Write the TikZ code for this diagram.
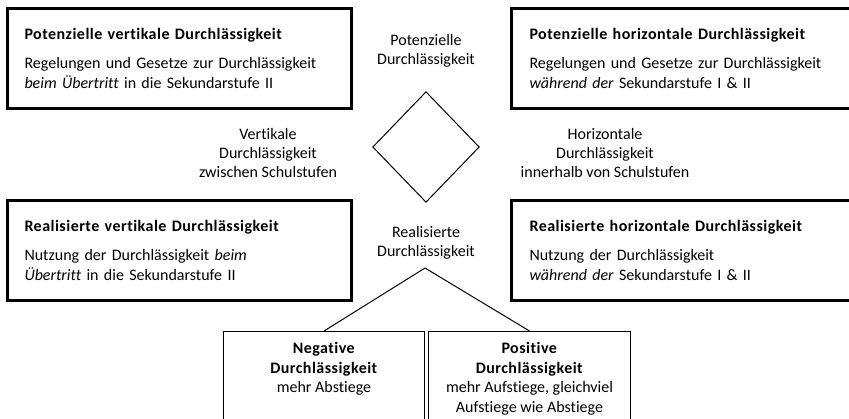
\documentclass[tikz,border=0pt]{standalone}
\usepackage{fontspec}
\setmainfont[Ligatures=NoCommon, BoldFeatures={LetterSpace=3}]{Carlito}
\usetikzlibrary{shapes.geometric,positioning}

\tikzset{
  bigbox/.style={draw, line width=2.25pt, anchor=north west, inner ysep=0pt,
    align=left, minimum height=75pt, font=\fontsize{12}{14.6}\selectfont},
  smallbox/.style={draw, line width=0.75pt, anchor=north west, inner sep=0pt,
    minimum height=90pt},
  boxtext/.style={align=center, inner sep=0pt, font=\fontsize{12}{14.6}\selectfont},
  midtext/.style={align=center, inner sep=0pt, font=\fontsize{12}{14.6}\selectfont},
}

\begin{document}
\begin{tikzpicture}[x=0.75pt,y=0.75pt,yscale=-1,xscale=1]
        \useasboundingbox (0,0) rectangle (849,418);
        \clip (0,0) rectangle (849,418);

        %Shape: Rectangle [potenzielle vertikale]
        \node [bigbox, inner xsep=12.75pt, text width=232.5pt] (potvert) at (6,7)
          {\textbf{Potenzielle vertikale Durchlässigkeit}\\[7pt]
           Regelungen und Gesetze zur Durchlässigkeit\\
           \textit{beim Übertritt} in die Sekundarstufe II};
        %Shape: Rectangle [potenzielle horizontale]
        \node [bigbox, inner xsep=13.5pt, text width=243pt] (pothor) at (510,7)
          {\textbf{Potenzielle horizontale Durchlässigkeit}\\[7pt]
           Regelungen und Gesetze zur Durchlässigkeit\\
           \textit{während der} Sekundarstufe I \& II};
        %Shape: Rectangle [realisierte vertikale]
        \node [bigbox, inner xsep=12.75pt, text width=232.5pt] (realvert) at (6,199)
          {\textbf{Realisierte vertikale Durchlässigkeit}\\[7pt]
           Nutzung der Durchlässigkeit \textit{beim}\\
           \textit{Übertritt} in die Sekundarstufe II};
        %Shape: Rectangle [realisierte horizontale]
        \node [bigbox, inner xsep=13.5pt, text width=243pt] (realhor) at (510,199)
          {\textbf{Realisierte horizontale Durchlässigkeit}\\[7pt]
           Nutzung der Durchlässigkeit\\
           \textit{während der} Sekundarstufe I \& II};

        %Shape: Diamond
        \node [draw, diamond, line width=0.75pt, inner sep=0pt, minimum width=80pt,
          minimum height=83pt] (raute) at (426,147) {};

        % Text Node
        \node [midtext] (potlabel) at (426,51) {Potenzielle\\Durchlässigkeit};
        % Text Node
        \node [midtext] (reallabel) at (426,243) {Realisierte\\Durchlässigkeit};
        % Text Node
        \node [midtext] (vertlabel) at (268,153) {Vertikale\\Durchlässigkeit\\zwischen Schulstufen};
        % Text Node
        \node [midtext] (horlabel) at (605,153) {Horizontale\\Durchlässigkeit\\innerhalb von Schulstufen};

        %Shape: Rectangle [negativ]
        \node [smallbox, minimum width=150.75pt] (neg) at (223,331) {};
        %Shape: Rectangle [positiv]
        \node [smallbox, minimum width=151.5pt] (pos) at (428,331) {};
        % Text Node
        \node [boxtext, below=8.5pt of neg.north] (negtext)
          {\textbf{Negative}\\\textbf{Durchlässigkeit}\\mehr Abstiege};
        % Text Node
        \node [boxtext, below=8.5pt of pos.north] (postext)
          {\textbf{Positive}\\\textbf{Durchlässigkeit}\\mehr Aufstiege, gleichviel\\Aufstiege wie Abstiege};

        %Straight Lines [von realisierte nach unten]
        \coordinate (spitze) at (425,268);
        \draw [line width=0.75pt] (spitze) -- (neg.north);
        \draw [line width=0.75pt] (spitze) -- (pos.north);
\end{tikzpicture}
\end{document}
